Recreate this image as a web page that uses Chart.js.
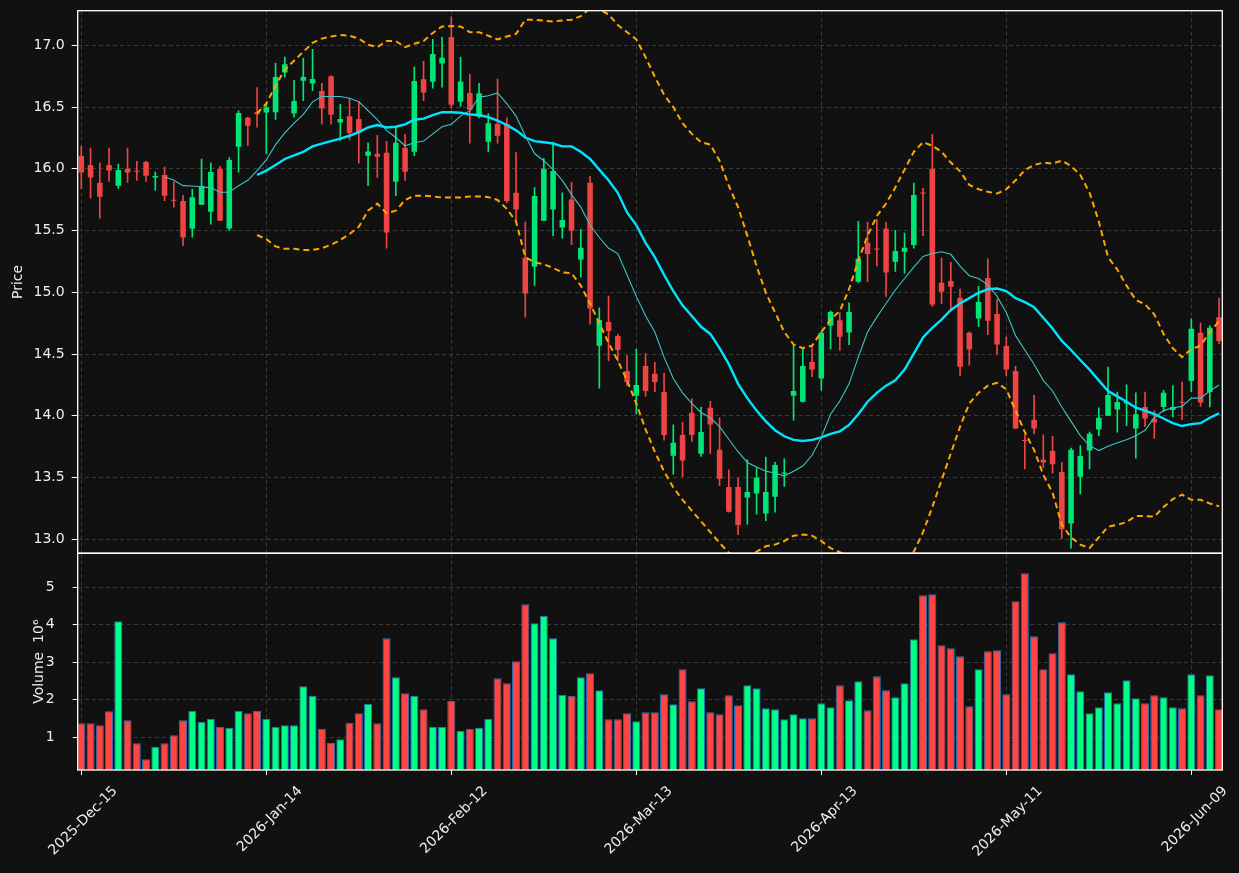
<!DOCTYPE html>
<html><head><meta charset="utf-8">
<script src="https://cdn.jsdelivr.net/npm/chart.js@4/dist/chart.umd.min.js"></script>
<style>
html,body{margin:0;padding:0;background:#111111;}
#wrap{position:relative;width:1239px;height:873px;background:#111111;overflow:hidden;}
canvas{position:absolute;left:0;}
#c1{top:0;} #c2{top:540px;}
</style></head><body>
<div id="wrap"><canvas id="c1" width="1239" height="560"></canvas><canvas id="c2" width="1239" height="333"></canvas></div>
<script>
// ---- DATA ----
const categories = [
'2025-Dec-15','2025-Dec-16','2025-Dec-17','2025-Dec-18','2025-Dec-19','2025-Dec-22','2025-Dec-23','2025-Dec-24','2025-Dec-26','2025-Dec-29','2025-Dec-30','2025-Dec-31',
'2026-Jan-02','2026-Jan-05','2026-Jan-06','2026-Jan-07','2026-Jan-08','2026-Jan-09','2026-Jan-12','2026-Jan-13','2026-Jan-14','2026-Jan-15','2026-Jan-16','2026-Jan-20','2026-Jan-21','2026-Jan-22','2026-Jan-23','2026-Jan-26','2026-Jan-27','2026-Jan-28','2026-Jan-29','2026-Jan-30',
'2026-Feb-02','2026-Feb-03','2026-Feb-04','2026-Feb-05','2026-Feb-06','2026-Feb-09','2026-Feb-10','2026-Feb-11','2026-Feb-12','2026-Feb-13','2026-Feb-17','2026-Feb-18','2026-Feb-19','2026-Feb-20','2026-Feb-23','2026-Feb-24','2026-Feb-25','2026-Feb-26','2026-Feb-27',
'2026-Mar-02','2026-Mar-03','2026-Mar-04','2026-Mar-05','2026-Mar-06','2026-Mar-09','2026-Mar-10','2026-Mar-11','2026-Mar-12','2026-Mar-13','2026-Mar-16','2026-Mar-17','2026-Mar-18','2026-Mar-19','2026-Mar-20','2026-Mar-23','2026-Mar-24','2026-Mar-25','2026-Mar-26','2026-Mar-27','2026-Mar-30','2026-Mar-31',
'2026-Apr-01','2026-Apr-02','2026-Apr-06','2026-Apr-07','2026-Apr-08','2026-Apr-09','2026-Apr-10','2026-Apr-13','2026-Apr-14','2026-Apr-15','2026-Apr-16','2026-Apr-17','2026-Apr-20','2026-Apr-21','2026-Apr-22','2026-Apr-23','2026-Apr-24','2026-Apr-27','2026-Apr-28','2026-Apr-29','2026-Apr-30',
'2026-May-01','2026-May-04','2026-May-05','2026-May-06','2026-May-07','2026-May-08','2026-May-11','2026-May-12','2026-May-13','2026-May-14','2026-May-15','2026-May-18','2026-May-19','2026-May-20','2026-May-21','2026-May-22','2026-May-26','2026-May-27','2026-May-28','2026-May-29',
'2026-Jun-01','2026-Jun-02','2026-Jun-03','2026-Jun-04','2026-Jun-05','2026-Jun-08','2026-Jun-09','2026-Jun-10','2026-Jun-11','2026-Jun-12'];

const opens = [16.104,16.032,15.887,16.032,15.864,16.0,15.983,16.055,15.931,15.951,15.748,15.739,15.517,15.710,15.652,16.0,15.517,16.179,16.413,16.459,
16.457,16.459,16.780,16.448,16.714,16.691,16.630,16.751,16.375,16.427,16.404,16.106,16.123,16.130,15.895,16.170,16.138,16.725,16.705,16.853,
17.067,16.543,16.615,16.422,16.219,16.364,16.364,15.806,15.279,15.207,15.580,15.670,15.525,15.751,15.265,15.887,14.568,14.759,14.646,14.363,
14.163,14.403,14.340,14.192,13.677,13.845,14.024,13.692,14.065,13.724,13.423,13.423,13.339,13.371,13.209,13.345,13.530,14.163,14.114,14.435,
14.302,14.730,14.773,14.675,15.086,15.401,15.352,15.514,15.248,15.329,15.383,15.806,16.0,15.077,15.091,14.955,14.672,14.788,15.117,14.825,
14.565,14.363,13.802,13.967,13.643,13.715,13.544,13.128,13.506,13.718,13.888,14.0,14.050,14.099,13.897,14.071,13.975,14.071,14.047,14.111,
14.282,14.672,14.192,14.799];
const highs = [16.182,16.168,16.046,16.168,16.038,16.168,16.061,16.06,15.973,16.014,15.892,15.785,15.835,16.080,16.046,16.020,16.092,16.471,16.42,16.659,
16.529,16.855,16.905,16.717,16.896,16.968,16.693,16.755,16.523,16.572,16.543,16.211,16.271,16.222,16.341,16.280,16.824,16.870,17.049,17.067,
17.231,16.905,16.766,16.693,16.448,16.728,16.413,16.132,15.569,15.849,16.086,16.216,15.806,15.890,15.511,15.939,14.875,14.970,14.66,14.487,
14.539,14.504,14.432,14.345,13.926,13.946,14.137,14.071,14.117,13.984,13.562,13.498,13.643,13.579,13.665,13.622,13.651,14.568,14.554,14.562,
14.68,14.851,14.834,14.915,15.574,15.569,15.589,15.566,15.502,15.479,15.884,15.843,16.280,15.279,15.242,15.026,14.68,15.048,15.271,14.944,
14.637,14.400,13.845,14.166,13.845,13.833,13.622,13.738,13.758,13.868,14.065,14.394,14.192,14.250,14.186,14.192,14.041,14.207,14.244,14.273,
14.785,14.750,14.730,14.953];
const lows = [15.84,15.763,15.601,15.899,15.841,15.890,15.907,15.899,15.826,15.742,15.690,15.378,15.447,15.71,15.551,15.580,15.502,15.974,16.190,16.338,
16.124,16.401,16.743,16.419,16.552,16.633,16.361,16.361,16.231,16.239,16.046,15.863,15.930,15.357,15.783,15.907,16.106,16.552,16.653,16.662,
16.491,16.505,16.208,16.413,16.141,16.208,15.725,15.574,14.799,15.055,15.58,15.459,15.438,15.386,15.123,14.742,14.224,14.446,14.441,14.244,
14.013,14.157,14.195,13.802,13.527,13.506,13.793,13.671,13.695,13.434,13.22,13.038,13.122,13.203,13.151,13.220,13.428,13.964,14.11,14.317,
14.207,14.539,14.530,14.577,15.08,15.086,15.213,14.967,15.169,15.155,15.357,15.459,14.886,14.909,14.846,14.325,14.409,14.721,14.658,14.5,
14.325,13.895,13.570,13.854,13.579,13.535,13.006,12.928,13.368,13.570,13.839,14.0,13.868,13.920,13.657,13.912,13.816,14.036,13.990,13.969,
14.195,14.076,14.071,14.585];
const closes = [15.971,15.931,15.774,15.986,15.991,15.971,15.977,15.945,15.942,15.783,15.742,15.444,15.771,15.861,15.974,15.580,16.072,16.453,16.349,16.442,
16.50,16.743,16.847,16.549,16.743,16.728,16.488,16.439,16.404,16.291,16.291,16.141,16.098,15.485,16.211,15.977,16.711,16.618,16.931,16.899,
16.520,16.708,16.479,16.612,16.370,16.268,15.739,15.670,14.990,15.780,16.0,15.982,15.586,15.499,15.360,14.869,14.776,14.687,14.533,14.273,
14.250,14.201,14.273,13.845,13.781,13.637,13.845,13.868,13.929,13.491,13.223,13.116,13.382,13.498,13.382,13.602,13.541,14.201,14.403,14.374,
14.672,14.840,14.640,14.840,15.271,15.311,15.346,15.161,15.334,15.360,15.788,15.800,14.901,15.005,15.045,14.397,14.536,14.921,14.770,14.577,
14.374,13.897,13.796,13.897,13.622,13.608,13.081,13.724,13.674,13.854,13.984,14.169,14.111,14.114,14.013,13.978,13.946,14.186,14.071,14.105,
14.704,14.108,14.713,14.606];
const volume = [1.373,1.373,1.32,1.693,4.093,1.453,0.84,0.413,0.751,0.84,1.053,1.453,1.711,1.418,1.498,1.284,1.258,1.711,1.64,1.711,
1.498,1.284,1.32,1.32,2.36,2.111,1.231,0.858,0.947,1.391,1.64,1.898,1.373,3.64,2.6,2.173,2.111,1.747,1.284,1.284,
1.978,1.178,1.231,1.258,1.498,2.573,2.44,3.027,4.547,4.04,4.244,3.64,2.138,2.111,2.6,2.707,2.253,1.48,1.48,1.64,
1.427,1.667,1.667,2.147,1.88,2.813,1.96,2.307,1.667,1.613,2.12,1.853,2.387,2.307,1.773,1.747,1.48,1.613,1.507,1.507,
1.907,1.8,2.387,1.987,2.493,1.72,2.627,2.253,2.067,2.44,3.613,4.787,4.813,3.453,3.373,3.16,1.827,2.813,3.293,3.32,
2.147,4.627,5.373,3.693,2.813,3.24,4.067,2.68,2.227,1.64,1.8,2.2,1.907,2.52,2.04,1.907,2.12,2.067,1.8,1.773,
2.68,2.12,2.653,1.747];

// moving average (thin line starts at index 9)
const maShortStart = 9;
const maShort = [15.936,15.907,15.864,15.861,15.855,15.846,15.811,15.811,15.864,15.907,15.986,16.072,16.196,16.291,16.370,16.442,16.543,16.586,16.586,16.586,
16.572,16.543,16.471,16.398,16.312,16.254,16.187,16.211,16.225,16.283,16.341,16.361,16.427,16.471,16.581,16.592,16.615,16.529,16.427,16.268,
16.124,16.066,15.994,15.907,15.791,15.690,15.545,15.444,15.357,15.314,15.141,14.967,14.81,14.678,14.475,14.302,14.186,14.100,14.027,13.984,
13.912,13.810,13.709,13.622,13.585,13.550,13.536,13.512,13.550,13.593,13.680,13.825,14.013,14.12,14.259,14.475,14.678,14.799,14.909,15.019,
15.112,15.204,15.291,15.314,15.329,15.308,15.213,15.135,15.112,15.060,14.967,14.837,14.649,14.533,14.418,14.287,14.201,14.071,13.955,13.839,
13.758,13.718,13.753,13.781,13.805,13.839,13.883,13.984,14.042,14.065,14.076,14.143,14.143,14.201,14.250];
// thick line and bands start at index 19
const maLongStart = 19;
const maLong = [15.950,15.986,16.032,16.080,16.109,16.138,16.182,16.205,16.225,16.245,16.268,16.297,16.335,16.355,16.335,16.341,16.361,16.398,16.407,16.436,
16.459,16.459,16.455,16.44,16.436,16.419,16.390,16.355,16.312,16.254,16.225,16.216,16.205,16.182,16.182,16.138,16.080,15.994,15.907,15.806,
15.647,15.545,15.401,15.285,15.141,15.010,14.895,14.808,14.721,14.663,14.548,14.418,14.259,14.143,14.042,13.955,13.883,13.834,13.805,13.796,
13.805,13.825,13.854,13.874,13.926,14.013,14.114,14.186,14.244,14.287,14.374,14.504,14.634,14.713,14.779,14.857,14.909,14.953,14.996,15.025,
15.031,15.010,14.953,14.92,14.880,14.794,14.707,14.606,14.533,14.452,14.374,14.287,14.201,14.157,14.114,14.065,14.042,14.013,13.978,13.940,
13.917,13.932,13.940,13.984,14.019];
const bandUpper = [16.448,16.529,16.673,16.803,16.876,16.948,17.020,17.055,17.072,17.084,17.078,17.055,17.006,16.986,17.035,17.035,16.986,17.014,17.035,17.101,
17.153,17.156,17.153,17.107,17.107,17.078,17.049,17.072,17.093,17.208,17.208,17.200,17.194,17.202,17.208,17.237,17.30,17.29,17.252,17.165,
17.107,17.049,16.905,16.746,16.601,16.5,16.370,16.283,16.216,16.196,16.066,15.864,15.690,15.459,15.213,14.996,14.837,14.678,14.577,14.548,
14.568,14.678,14.779,14.85,15.025,15.256,15.459,15.618,15.719,15.849,15.994,16.138,16.216,16.187,16.138,16.051,15.980,15.869,15.835,15.814,
15.800,15.835,15.907,15.99,16.031,16.051,16.043,16.066,16.023,15.950,15.806,15.574,15.285,15.184,15.054,14.938,14.903,14.822,14.663,14.548,
14.475,14.539,14.568,14.678,14.765];
const bandLower = [15.464,15.430,15.372,15.352,15.352,15.343,15.343,15.357,15.386,15.424,15.473,15.531,15.661,15.719,15.641,15.661,15.748,15.783,15.783,15.777,
15.768,15.768,15.768,15.777,15.777,15.771,15.748,15.676,15.574,15.285,15.242,15.227,15.198,15.161,15.155,15.054,14.909,14.750,14.591,14.446,
14.287,14.100,13.890,13.709,13.550,13.420,13.319,13.232,13.145,13.058,12.971,12.89,12.86,12.86,12.899,12.943,12.957,12.986,13.029,13.038,
13.029,12.986,12.928,12.895,12.86,12.80,12.75,12.72,12.72,12.76,12.83,12.899,13.058,13.261,13.478,13.695,13.912,14.100,14.186,14.244,
14.267,14.215,14.042,13.868,13.724,13.521,13.377,13.116,13.015,12.957,12.928,13.015,13.102,13.116,13.139,13.188,13.188,13.183,13.261,13.325,
13.362,13.319,13.319,13.290,13.267];

const priceTicksStep = 0.5;
const volumeTicksStep = 1;
const dateTickStep = 20;

// ---- STYLE ----
Chart.defaults.font.family = "'DejaVu Sans', sans-serif";
Chart.defaults.font.size = 14;
const TXT = '#eeeeee';
const GRID = '#444444';
const UP = '#00e676', DOWN = '#ef4444';
const VUP = '#00ff88', VDOWN = '#ff4444';
const X_MIN = -0.39, X_MAX = 123.35;

const up = closes.map((c, i) => c >= opens[i]);
const candleColors = up.map(u => u ? UP : DOWN);
const volColors = up.map(u => u ? VUP : VDOWN);

const frame = {
  id: 'frame',
  afterDraw(chart) {
    const a = chart.chartArea, ctx = chart.ctx;
    ctx.save();
    ctx.strokeStyle = '#ffffff';
    ctx.lineWidth = 1.3;
    ctx.strokeRect(a.left, a.top, a.right - a.left, a.bottom - a.top);
    ctx.restore();
  }
};
const noPadY = s => { s.width = 77.7; s.paddingTop = 0; s.paddingBottom = 0; };

const lineDs = (arr, start, color, width, dash) => ({
  type: 'line',
  data: arr.map((v, i) => ({x: i + start, y: v})),
  borderColor: color, borderWidth: width, borderDash: dash || [],
  pointRadius: 0, tension: 0, order: 0, clip: 0
});

new Chart(document.getElementById('c1'), {
  type: 'bar',
  data: {
    datasets: [
      lineDs(maShort, maShortStart, '#3cc6c4', 1.1),
      lineDs(maLong, maLongStart, '#00e5ff', 2.4),
      lineDs(bandUpper, maLongStart, '#ffa500', 2, [6, 4]),
      lineDs(bandLower, maLongStart, '#ffa500', 2, [6, 4]),
      {
        type: 'bar',
        data: opens.map((o, i) => ({x: i, y: [o, closes[i]]})),
        backgroundColor: candleColors,
        barPercentage: 0.6, categoryPercentage: 1, grouped: false, minBarLength: 1, order: 1
      },
      {
        type: 'bar',
        data: lows.map((l, i) => ({x: i, y: [l, highs[i]]})),
        backgroundColor: candleColors,
        barThickness: 1, grouped: false, order: 2
      }
    ]
  },
  options: {
    responsive: false, animation: false,
    layout: {padding: {top: 10.7, right: 16.7, bottom: 6.8, left: 0}},
    plugins: {legend: {display: false}, tooltip: {enabled: false}},
    scales: {
      x: {
        type: 'linear', min: X_MIN, max: X_MAX, offset: false,
        afterFit(s) { s.height = 0; s.paddingLeft = 0; s.paddingRight = 0; },
        ticks: {display: false, stepSize: dateTickStep, includeBounds: false},
        grid: {color: GRID, lineWidth: 0.8, drawTicks: false, offset: false},
        border: {display: false, dash: [4, 3]}
      },
      y: {
        min: 12.887, max: 17.281,
        afterFit: noPadY,
        ticks: {stepSize: priceTicksStep, includeBounds: false, padding: 7, color: TXT,
                callback: v => Number(v).toFixed(1)},
        grid: {color: GRID, lineWidth: 0.8, tickLength: 6, tickColor: '#ffffff', tickWidth: 1},
        border: {display: false, dash: [4, 3]},
        title: {display: true, text: 'Price', color: TXT, padding: {top: 10, bottom: 0}}
      }
    }
  },
  plugins: [frame]
});

new Chart(document.getElementById('c2'), {
  type: 'bar',
  data: {
    datasets: [{
      data: volume.map((v, i) => ({x: i, y: v})),
      backgroundColor: volColors,
      borderColor: '#2a72b0', borderWidth: 1,
      barPercentage: 0.87, categoryPercentage: 1, grouped: false
    }]
  },
  options: {
    responsive: false, animation: false,
    layout: {padding: {top: 13.3, right: 16.7, bottom: 0, left: 0}},
    plugins: {legend: {display: false}, tooltip: {enabled: false}},
    scales: {
      x: {
        type: 'linear', min: X_MIN, max: X_MAX, offset: false,
        afterFit(s) { s.height = 103; s.paddingLeft = 0; s.paddingRight = 0; },
        ticks: {stepSize: dateTickStep, includeBounds: false, autoSkip: false,
                minRotation: 45, maxRotation: 45, labelOffset: 34, padding: 8, color: TXT,
                callback: v => categories[Math.round(v)]},
        grid: {color: GRID, lineWidth: 0.8, tickLength: 5, tickColor: '#ffffff', tickWidth: 1, offset: false},
        border: {display: false, dash: [4, 3]}
      },
      y: {
        min: 0.128, max: 5.907,
        afterFit: noPadY,
        ticks: {stepSize: volumeTicksStep, includeBounds: false, padding: 18, color: TXT,
                callback: v => String(v)},
        grid: {color: GRID, lineWidth: 0.8, tickLength: 5, tickColor: '#ffffff', tickWidth: 1},
        border: {display: false, dash: [4, 3]},
        title: {display: true, text: 'Volume  10\u2076', color: TXT, padding: {top: 30.6, bottom: 0}}
      }
    }
  },
  plugins: [frame]
});
</script>
</body></html>
